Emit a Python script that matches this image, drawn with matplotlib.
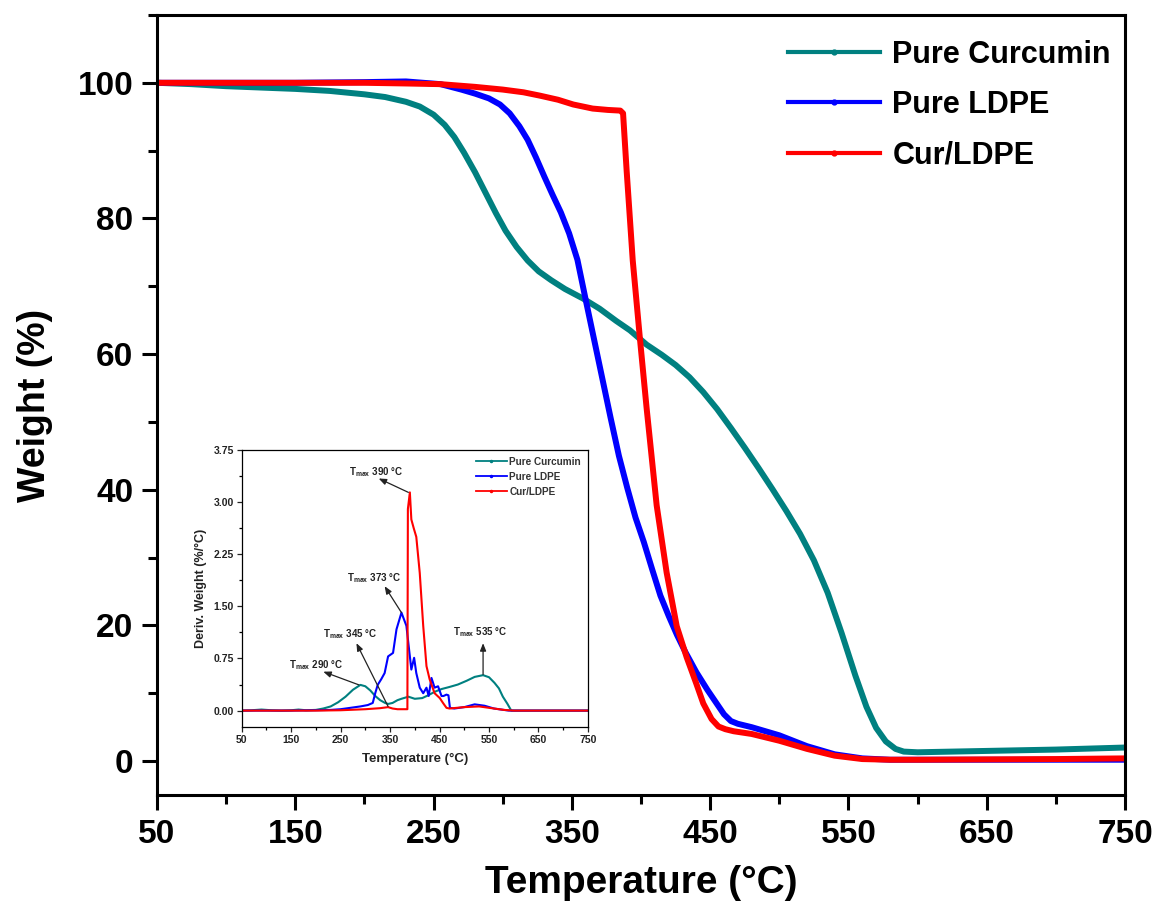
import matplotlib
matplotlib.use("Agg")
import matplotlib.pyplot as plt
from matplotlib.ticker import FixedLocator
from matplotlib.lines import Line2D

plt.rcParams['font.family'] = ['Liberation Sans', 'DejaVu Sans']
plt.rcParams['font.weight'] = 'bold'
plt.rcParams['mathtext.fontset'] = 'custom'
plt.rcParams['mathtext.rm'] = 'Liberation Sans:bold'
plt.rcParams['mathtext.it'] = 'Liberation Sans:bold'
plt.rcParams['mathtext.bf'] = 'Liberation Sans:bold'

# ---------------- data: TGA (main) ----------------
series_names = ["Pure Curcumin", "Pure LDPE", "Cur/LDPE"]
series_colors = ["#008080", "#0000FF", "#FF0000"]

T_cur = [50, 75, 100, 125, 150, 175, 200, 215, 230, 240, 250, 258, 265, 272, 280, 288, 295, 302, 310, 318, 326, 335,
         345, 358, 370, 382, 392, 404, 415, 425, 435, 445, 455, 465, 475, 485, 495, 505, 515, 525, 535, 545, 555, 563,
         570, 577, 584, 590, 600, 650, 700, 750]
W_cur = [100, 99.8, 99.5, 99.3, 99.1, 98.8, 98.3, 97.9, 97.2, 96.5, 95.3, 93.8, 92.0, 89.7, 86.8, 83.6, 80.8, 78.2, 75.8,
         73.8, 72.2, 70.9, 69.6, 68.2, 66.7, 64.9, 63.5, 61.4, 59.9, 58.4, 56.6, 54.4, 51.9, 49.1, 46.2, 43.2, 40.1, 36.9,
         33.5, 29.6, 24.8, 18.9, 12.6, 8.0, 4.9, 2.9, 1.8, 1.4, 1.3, 1.5, 1.7, 2.0]

T_ldpe = [50, 100, 150, 200, 230, 255, 270, 280, 290, 298, 305, 312, 318, 324, 330, 336, 342, 348, 354, 360, 366, 372,
          378, 384, 390, 396, 402, 408, 414, 420, 426, 432, 440, 448, 455, 460, 465, 470, 480, 490, 500, 510, 520, 530,
          540, 550, 560, 570, 580, 600, 650, 700, 750]
W_ldpe = [100, 100, 100, 100.1, 100.2, 99.8, 99.0, 98.4, 97.7, 96.8, 95.5, 93.6, 91.6, 89.0, 86.2, 83.5, 80.9, 77.8,
          73.9, 68.0, 62.2, 56.4, 50.6, 45.0, 40.3, 35.9, 32.3, 28.3, 24.4, 21.4, 18.6, 16.1, 13.1, 10.5, 8.4, 6.9, 5.9,
          5.5, 5.0, 4.4, 3.8, 3.0, 2.2, 1.6, 1.0, 0.7, 0.4, 0.3, 0.2, 0.2, 0.2, 0.2, 0.2]

T_comp = [50, 100, 150, 200, 230, 255, 280, 300, 315, 327, 340, 351, 365, 376, 385, 387, 389.6, 394, 399, 404, 411.3,
          418.5, 425.8, 433, 440, 445, 451, 456, 461, 467, 480, 500, 520, 540, 560, 580, 600, 650, 700, 750]
W_comp = [100, 100, 100, 100, 99.9, 99.8, 99.4, 99.0, 98.6, 98.1, 97.5, 96.8, 96.2, 96.0, 95.9, 95.5, 87.0, 73.8, 62.7,
          52.1, 37.7, 27.8, 19.9, 15.3, 11.4, 8.5, 6.2, 5.1, 4.7, 4.4, 4.0, 3.0, 1.8, 0.8, 0.3, 0.2, 0.2, 0.25, 0.3, 0.4]

# ---------------- data: DTG (inset) ----------------
Td_cur = [50, 70, 90, 110, 130, 150, 165, 180, 200, 215, 230, 245, 260, 275, 290, 300, 310, 320, 330, 340, 346, 355, 365,
          373, 387, 400, 415, 427, 440, 454, 470, 487, 505, 521, 538, 550, 561, 570, 578, 587, 595, 650, 700, 750]
D_cur = [0, 0.005, 0.015, 0.005, 0, 0.005, 0.015, 0.005, 0.01, 0.03, 0.06, 0.12, 0.2, 0.3, 0.37, 0.35, 0.29, 0.21, 0.15, 0.11,
         0.096, 0.11, 0.15, 0.17, 0.2, 0.17, 0.18, 0.22, 0.27, 0.31, 0.34, 0.375, 0.43, 0.485, 0.51, 0.48, 0.4, 0.32, 0.2,
         0.1, 0, 0, 0, 0]

Td_ldpe = [50, 150, 200, 230, 250, 270, 290, 305, 315, 320, 325, 332, 339, 346, 356, 363, 373, 383, 390, 393, 398.6, 403,
           410, 417, 423.6, 428, 433.7, 440, 447, 454, 458, 464, 468, 471, 480, 500, 521, 541, 560, 575, 590, 650, 750]
D_ldpe = [0, 0, 0.005, 0.01, 0.02, 0.04, 0.06, 0.08, 0.11, 0.25, 0.37, 0.45, 0.54, 0.78, 0.83, 1.17, 1.41, 1.22, 0.78, 0.59,
          0.76, 0.54, 0.33, 0.25, 0.33, 0.21, 0.47, 0.33, 0.35, 0.21, 0.21, 0.23, 0.22, 0.04, 0.03, 0.05, 0.09, 0.07, 0.03,
          0.015, 0, 0, 0]

Td_comp = [50, 150, 200, 250, 300, 330, 346, 355, 365, 385, 386, 390, 393, 398, 403, 410, 417, 423.6, 430, 440, 450.5,
           457, 464, 470, 500, 530, 560, 580, 600, 750]
D_comp = [0, 0, 0, 0.005, 0.02, 0.035, 0.05, 0.03, 0.02, 0.02, 2.9, 3.14, 2.75, 2.62, 2.5, 1.98, 1.22, 0.64, 0.45, 0.25,
          0.18, 0.11, 0.04, 0.03, 0.05, 0.06, 0.03, 0.01, 0, 0]

# annotations: label, arrow tail (peak), arrow head, text centre
ann_labels = [r"T$_{\mathrm{max}}$ 390 °C", r"T$_{\mathrm{max}}$ 373 °C", r"T$_{\mathrm{max}}$ 345 °C",
              r"T$_{\mathrm{max}}$ 290 °C", r"T$_{\mathrm{max}}$ 535 °C"]
ann_tail = [(387, 3.14), (373, 1.41), (346, 0.06), (287, 0.37), (538, 0.52)]
ann_head = [(327, 3.34), (339, 1.79), (282, 0.97), (215, 0.56), (538, 0.97)]
ann_text = [(322, 3.43), (317, 1.91), (269, 1.10), (201, 0.65), (532, 1.13)]

x_ticks = [50, 150, 250, 350, 450, 550, 650, 750]
y_ticks = [0, 20, 40, 60, 80, 100]
yin_ticks = [0.00, 0.75, 1.50, 2.25, 3.00, 3.75]

# ---------------- figure ----------------
fig = plt.figure(figsize=(11.59, 9.24), dpi=100)
ax = fig.add_axes([0.1355, 0.1396, 0.8352, 0.8442])

tga = [(T_cur, W_cur), (T_ldpe, W_ldpe), (T_comp, W_comp)]
for (t, w), c in zip(tga, series_colors):
    ax.plot(t, w, color=c, lw=4.3, solid_capstyle='butt', solid_joinstyle='round')

ax.set_xlim(50, 750)
ax.set_ylim(-5, 110)
ax.xaxis.set_major_locator(FixedLocator(x_ticks))
ax.xaxis.set_minor_locator(FixedLocator([100, 200, 300, 400, 500, 600, 700]))
ax.yaxis.set_major_locator(FixedLocator(y_ticks))
ax.yaxis.set_minor_locator(FixedLocator([10, 30, 50, 70, 90, 110]))
ax.set_xticklabels([str(v) for v in x_ticks])
ax.set_yticklabels([str(v) for v in y_ticks])
for s in ax.spines.values():
    s.set_linewidth(2.2)
ax.tick_params(which='major', direction='out', length=11, width=2.2, labelsize=24, pad=6)
ax.tick_params(which='minor', direction='out', length=6.5, width=2.2)
for lab in ax.get_xticklabels() + ax.get_yticklabels():
    lab.set_fontweight('bold')
ax.set_xlabel("Temperature (°C)", fontsize=28, fontweight='bold', labelpad=11)
ax.set_ylabel("Weight (%)", fontsize=27, fontweight='bold', labelpad=18)

handles = [Line2D([0, 0.5, 1], [0, 0, 0], color=c, lw=3, marker='o', markersize=3.5, markevery=[1])
           for c in series_colors]
ax.legend(handles, series_names, loc='upper right', bbox_to_anchor=(0.998, 0.984), borderaxespad=0,
          frameon=False, prop={'size': 22, 'weight': 'bold'}, handlelength=3.0, handletextpad=0.4,
          labelspacing=0.67)

# ---------------- inset ----------------
axi = fig.add_axes([0.2085, 0.2132, 0.2988, 0.2998])
dtg = [(Td_cur, D_cur), (Td_ldpe, D_ldpe), (Td_comp, D_comp)]
for (t, d), c in zip(dtg, series_colors):
    axi.plot(t, d, color=c, lw=1.5)
axi.set_xlim(50, 750)
axi.set_ylim(-0.236, 3.75)
axi.xaxis.set_major_locator(FixedLocator(x_ticks))
axi.xaxis.set_minor_locator(FixedLocator([100, 200, 300, 400, 500, 600, 700]))
axi.yaxis.set_major_locator(FixedLocator(yin_ticks))
axi.yaxis.set_minor_locator(FixedLocator([0.375, 1.125, 1.875, 2.625, 3.375]))
axi.set_xticklabels([str(v) for v in x_ticks])
axi.set_yticklabels([f"{v:.2f}" for v in yin_ticks])
for s in axi.spines.values():
    s.set_linewidth(0.9)
axi.tick_params(which='major', direction='out', length=3.5, width=0.9, labelsize=7.5, pad=2, colors='#222222')
axi.tick_params(which='minor', direction='out', length=2, width=0.9)
for lab in axi.get_xticklabels() + axi.get_yticklabels():
    lab.set_fontweight('bold')
axi.set_xlabel("Temperature (°C)", fontsize=9.5, fontweight='bold', labelpad=6, color='#222222')
axi.set_ylabel("Deriv. Weight (%/°C)", fontsize=9, fontweight='bold', labelpad=5, color='#222222')

ihandles = [Line2D([0, 0.5, 1], [0, 0, 0], color=c, lw=1.3, marker='o', markersize=1.5, markevery=[1])
            for c in series_colors]
axi.legend(ihandles, series_names, loc='upper right', bbox_to_anchor=(1.0, 1.0), borderaxespad=0.3,
           frameon=False, prop={'size': 7.2, 'weight': 'bold'}, handlelength=3.1, handletextpad=0.25,
           labelspacing=0.5, labelcolor='#333333')

for lab, tail, head, tc in zip(ann_labels, ann_tail, ann_head, ann_text):
    axi.annotate('', xy=head, xytext=tail,
                 arrowprops=dict(arrowstyle='-|>,head_length=0.45,head_width=0.18', color='#222222', lw=0.9,
                                 shrinkA=0, shrinkB=0))
    axi.text(tc[0], tc[1], lab, fontsize=7, fontweight='bold', ha='center', va='center', color='#222222')

fig.savefig("out.png", dpi=100)
